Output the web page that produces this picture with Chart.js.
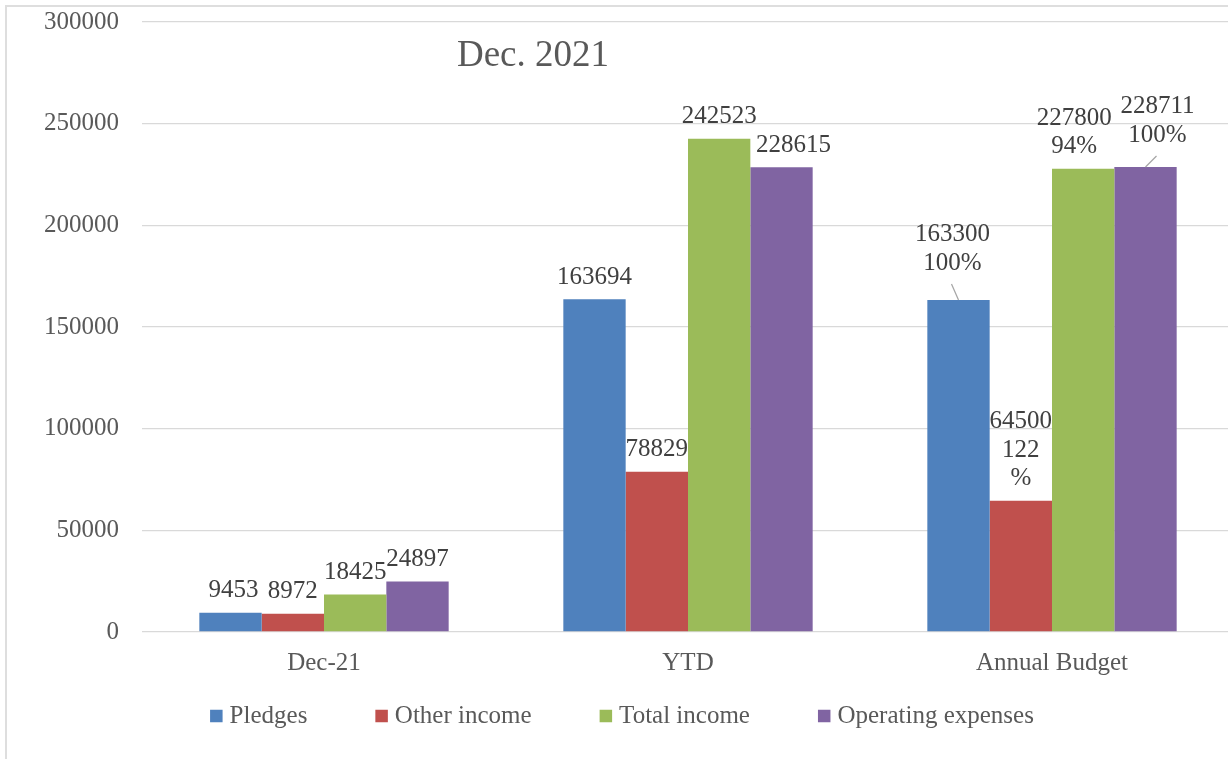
<!DOCTYPE html>
<html>
<head>
<meta charset="utf-8">
<script src="https://cdn.jsdelivr.net/npm/chart.js@4/dist/chart.umd.min.js"></script>
<style>
  html, body { margin: 0; padding: 0; background: #fff; overflow: hidden; }
  #frame { position: absolute; left: 5px; top: 5px; width: 1300px; height: 800px;
           border-left: 2px solid #dedede; border-top: 2px solid #dedede; }
  #wrap { position: absolute; left: 0; top: 0; width: 1240px; height: 759px; }
</style>
</head>
<body>
<div id="frame"></div>
<div id="wrap"><canvas id="chart"></canvas></div>
<script>
// data
const categories = ['Dec-21', 'YTD', 'Annual Budget'];
const pledges = [9453, 163694, 163300];
const otherIncome = [8972, 78829, 64500];
const totalIncome = [18425, 242523, 227800];
const operatingExpenses = [24897, 228615, 228711];
const budgetPct = ['100%', '122%', '94%', '100%'];   // shown on the Annual Budget bars
const yTicks = [0, 50000, 100000, 150000, 200000, 250000, 300000];
const chartTitle = 'Dec. 2021';

const FONT = 'Liberation Serif';

// label tweaks: [dataset]-[category] -> offset of the label from the bar top
const labelTweaks = {
  '0-0': { dx: 3 },
  '3-1': { dx: 12 },
  '0-2': { dx: -6, dy: -37, leader: true },
  '1-2': { split: true },
  '2-2': { dx: -9 },
  '3-2': { dx: 12, dy: -32, leader: true }
};

const valueLabels = {
  id: 'valueLabels',
  afterDatasetsDraw(chart) {
    const ctx = chart.ctx;
    ctx.save();
    ctx.font = '25px "' + FONT + '"';
    ctx.fillStyle = '#404040';
    ctx.textAlign = 'center';
    ctx.textBaseline = 'middle';
    chart.data.datasets.forEach((ds, i) => {
      chart.getDatasetMeta(i).data.forEach((bar, j) => {
        const t = labelTweaks[i + '-' + j] || {};
        let lines = [String(ds.data[j])];
        if (j === 2) {
          const p = budgetPct[i];
          if (t.split) lines.push(p.slice(0, -1), '%'); else lines.push(p);
        }
        const x = bar.x + (t.dx || 0);
        const yLast = bar.y + (t.dy === undefined ? -22 : t.dy);
        const lh = 28.5;
        lines.forEach((s, k) => {
          ctx.fillText(s, x, yLast - (lines.length - 1 - k) * lh);
        });
        if (t.leader) {
          ctx.strokeStyle = '#a6a6a6';
          ctx.lineWidth = 1.2;
          ctx.beginPath();
          ctx.moveTo(x - 1, yLast + 21);
          ctx.lineTo(bar.x, bar.y);
          ctx.stroke();
        }
      });
    });
    ctx.restore();
  }
};

const titleInPlot = {
  id: 'titleInPlot',
  afterDraw(chart) {
    const ctx = chart.ctx, a = chart.chartArea;
    ctx.save();
    ctx.font = '37px "' + FONT + '"';
    ctx.fillStyle = '#595959';
    ctx.textAlign = 'center';
    ctx.textBaseline = 'middle';
    ctx.fillText(chartTitle, a.left + 391, a.top + 34);
    ctx.restore();
  }
};

// legend row under the axis (Excel-like spacing)
const bottomLegend = {
  id: 'bottomLegend',
  afterDraw(chart) {
    const ctx = chart.ctx;
    const box = 12.5, gapText = 7, gapItem = 68, cy = 716, cx = 622;
    ctx.save();
    ctx.font = '25px "' + FONT + '"';
    ctx.textBaseline = 'middle';
    ctx.textAlign = 'left';
    const items = chart.data.datasets.map(ds => ({
      text: ds.label, color: ds.backgroundColor, w: ctx.measureText(ds.label).width
    }));
    let total = items.reduce((s, it) => s + box + gapText + it.w, 0) + gapItem * (items.length - 1);
    let x = cx - total / 2;
    items.forEach(it => {
      ctx.fillStyle = it.color;
      ctx.fillRect(x, cy - box / 2, box, box);
      ctx.fillStyle = '#595959';
      ctx.fillText(it.text, x + box + gapText, cy);
      x += box + gapText + it.w + gapItem;
    });
    ctx.restore();
  }
};

new Chart(document.getElementById('chart'), {
  type: 'bar',
  data: {
    labels: categories,
    datasets: [
      { label: 'Pledges', data: pledges, backgroundColor: '#4F81BD' },
      { label: 'Other income', data: otherIncome, backgroundColor: '#C0504D' },
      { label: 'Total income', data: totalIncome, backgroundColor: '#9BBB59' },
      { label: 'Operating expenses', data: operatingExpenses, backgroundColor: '#8064A2' }
    ]
  },
  options: {
    responsive: true,
    maintainAspectRatio: false,
    animation: false,
    layout: { padding: { top: 22, right: 6, left: 0, bottom: 67 } },
    datasets: { bar: { categoryPercentage: 0.685, barPercentage: 1.0, borderWidth: 0 } },
    plugins: {
      legend: { display: false },
      tooltip: { enabled: false }
    },
    scales: {
      x: {
        grid: { display: false },
        border: { display: false },
        ticks: { font: { family: FONT, size: 25 }, color: '#595959', padding: 8, maxRotation: 0 },
        afterFit(scale) { scale.height = 60; }
      },
      y: {
        min: 0,
        max: 300000,
        afterBuildTicks(scale) { scale.ticks = yTicks.map(v => ({ value: v })); },
        grid: { color: '#d9d9d9', lineWidth: 1.3, drawTicks: false },
        border: { display: false },
        ticks: { font: { family: FONT, size: 25 }, color: '#595959', padding: 23, callback: v => String(v) },
        afterFit(scale) {
          scale.width = 142;
          scale.paddingTop = 0;
          scale.paddingBottom = 0;
        }
      }
    }
  },
  plugins: [valueLabels, titleInPlot, bottomLegend]
});
</script>
</body>
</html>
